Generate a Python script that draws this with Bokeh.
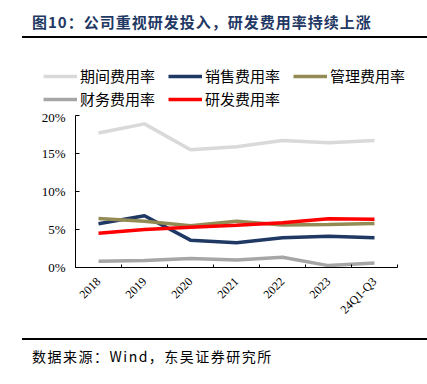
import math
from bokeh.plotting import figure
from bokeh.layouts import column
from bokeh.models import (Range1d, FixedTicker, PrintfTickFormatter, Legend, LegendItem, Div, Plot)
from bokeh.embed import file_html
from bokeh.resources import INLINE

categories = ["2018", "2019", "2020", "2021", "2022", "2023", "24Q1-Q3"]
period_rate = [17.7, 18.9, 15.5, 15.9, 16.7, 16.4, 16.7]
sales_rate = [5.75, 6.8, 3.6, 3.25, 3.9, 4.1, 3.9]
admin_rate = [6.45, 6.1, 5.5, 6.1, 5.6, 5.65, 5.8]
finance_rate = [0.83, 0.92, 1.2, 1.0, 1.35, 0.25, 0.6]
rd_rate = [4.5, 5.0, 5.3, 5.55, 5.9, 6.4, 6.35]
y_ticks = [0, 5, 10, 15, 20]
series_names = ["期间费用率", "销售费用率", "管理费用率", "财务费用率", "研发费用率"]
series_colors = ["#d9d9d9", "#1f3864", "#948a54", "#a6a6a6", "#ff0000"]
title_text = "图10：公司重视研发投入，研发费用率持续上涨"
source_text = "数据来源：Wind，东吴证券研究所"

series_values = [period_rate, sales_rate, admin_rate, finance_rate, rd_rate]
xs = [i + 0.5 for i in range(len(categories))]

CJK = "Noto Sans CJK SC"
SERIF = "Liberation Serif"
LW = 3.5
HAS_FRAME_ALIGN = "frame_align" in Plot.properties()

title_div = Div(
    text=('<div style="position:relative;width:405px;height:38px;box-sizing:border-box;'
          'border-bottom:2px solid #000;">'
          '<span style="position:absolute;left:10px;top:13px;white-space:nowrap;letter-spacing:1px;'
          f'font-family:\'{CJK}\';font-weight:bold;font-size:15px;line-height:18px;color:#1f3864;">'
          f'{title_text}</span></div>'),
    width=405, height=38, margin=(0, 0, 0, 22))

# legend strip: its own small canvas so the legend is not clipped by the chart frame.
# The series are drawn here too, but the view range is set away from the data so that
# only the legend shows.
lg = figure(width=427, height=71, x_range=Range1d(0, len(categories)), y_range=Range1d(-20, -10),
            x_axis_type=None, y_axis_type=None, output_backend="svg", toolbar_location=None,
            min_border=0, margin=(0, 0, 0, 0))
lg.outline_line_color = None
lg.xgrid.grid_line_color = None
lg.ygrid.grid_line_color = None
leg_renderers = [lg.line(xs, v, line_color=c, line_width=LW) for v, c in zip(series_values, series_colors)]
leg_x = 43 if HAS_FRAME_ALIGN else 43 - 75
legend = Legend(items=[LegendItem(label=n, renderers=[r]) for n, r in zip(series_names, leg_renderers)],
                orientation="horizontal", ncols=3, location=(leg_x, 0), padding=0, margin=0,
                spacing=2, glyph_width=34, glyph_height=14, label_width=86, label_height=14,
                label_standoff=3, border_line_alpha=0, background_fill_alpha=0,
                label_text_font=CJK, label_text_font_size="15px", label_text_color="black")
lg.add_layout(legend)

p = figure(width=427, height=229, x_range=Range1d(0, len(categories)), y_range=Range1d(0, 20),
           output_backend="svg", toolbar_location=None,
           min_border_left=75, min_border_right=30, min_border_top=6, min_border_bottom=71,
           margin=(0, 0, 0, 0))
p.outline_line_color = None
p.xgrid.grid_line_color = None
p.ygrid.grid_line_color = None
p.background_fill_color = "white"
if HAS_FRAME_ALIGN:
    lg.frame_align = False
    p.frame_align = False

for vals, col in zip(series_values, series_colors):
    p.line(xs, vals, line_color=col, line_width=LW)

xa = p.xaxis[0]
xa.ticker = FixedTicker(ticks=xs, minor_ticks=list(range(len(categories) + 1)))
xa.major_label_overrides = {x: c for x, c in zip(xs, categories)}
xa.major_label_orientation = math.pi / 4
xa.major_tick_in = 0
xa.major_tick_out = 0
xa.minor_tick_in = 3
xa.minor_tick_out = 0
xa.minor_tick_line_color = "black"
xa.axis_line_color = "black"
xa.major_label_text_font = SERIF
xa.major_label_text_font_size = "12px"
xa.major_label_text_color = "black"
xa.major_label_standoff = 12

ya = p.yaxis[0]
ya.ticker = FixedTicker(ticks=y_ticks)
ya.formatter = PrintfTickFormatter(format="%d%%")
ya.major_tick_in = 4
ya.major_tick_out = 0
ya.minor_tick_line_color = None
ya.axis_line_color = "black"
ya.major_tick_line_color = "black"
ya.major_label_text_font = SERIF
ya.major_label_text_font_size = "13px"
ya.major_label_text_color = "black"
ya.major_label_standoff = 10

source_div = Div(
    text=('<div style="position:relative;width:405px;height:46px;box-sizing:border-box;'
          'border-top:2px solid #000;">'
          '<span style="position:absolute;left:10px;top:7px;white-space:nowrap;letter-spacing:1.5px;'
          f'font-family:\'{CJK}\';font-size:14px;line-height:18px;color:#000;">'
          f'{source_text}</span></div>'),
    width=405, height=46, margin=(0, 0, 0, 22))

layout = column(title_div, lg, p, source_div, spacing=0, margin=(0, 0, 0, 0))
open("out.html", "w").write(file_html(layout, INLINE))
